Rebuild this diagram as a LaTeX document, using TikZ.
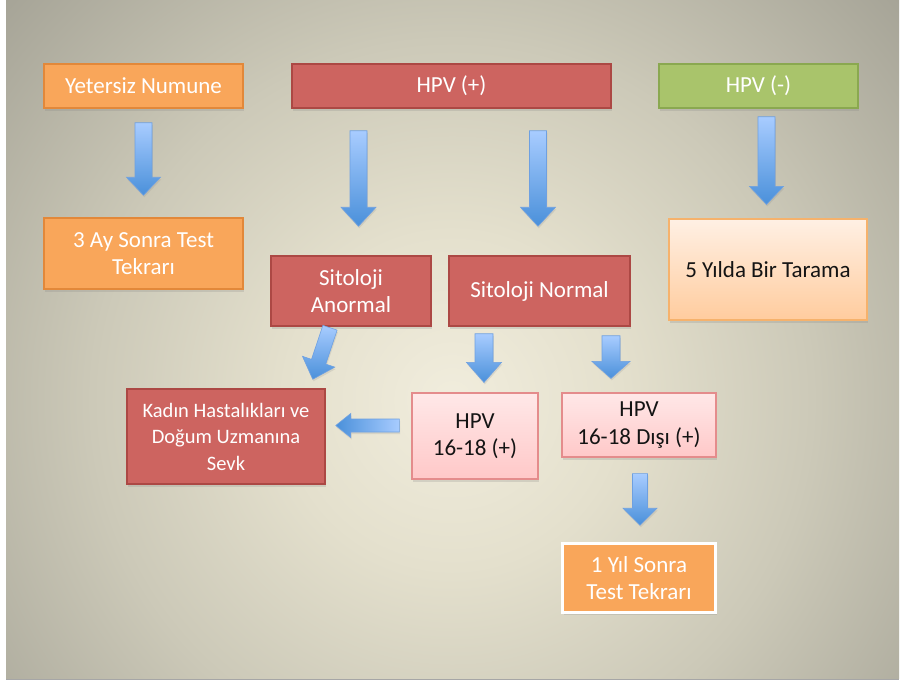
\documentclass[tikz,border=0pt]{standalone}
\usepackage{fontspec}
\setmainfont{Carlito}
\usetikzlibrary{calc,shadows}
\definecolor{bgc0}{RGB}{241,237,221}
\definecolor{bgc1}{RGB}{228,224,205}
\definecolor{bgc2}{RGB}{204,201,184}
\definecolor{bgc3}{RGB}{166,164,151}
\definecolor{orfill}{RGB}{249,166,90}
\definecolor{ordraw}{RGB}{226,136,58}
\definecolor{rdfill}{RGB}{205,100,96}
\definecolor{rddraw}{RGB}{172,72,68}
\definecolor{grfill}{RGB}{169,196,107}
\definecolor{grdraw}{RGB}{138,168,80}
\definecolor{pktop}{RGB}{255,232,232}
\definecolor{pkbot}{RGB}{255,200,200}
\definecolor{pkdraw}{RGB}{228,140,140}
\definecolor{pctop}{RGB}{255,240,228}
\definecolor{pcbot}{RGB}{255,204,158}
\definecolor{pcdraw}{RGB}{246,178,108}
\definecolor{arlight}{RGB}{168,204,255}
\definecolor{ardark}{RGB}{74,144,218}
\definecolor{arline}{RGB}{110,160,225}
\definecolor{txtdark}{RGB}{20,20,20}
\pgfdeclareradialshading{slidebg}{\pgfpoint{0bp}{0bp}}{color(0bp)=(bgc0); color(7bp)=(bgc1); color(15bp)=(bgc2); color(25bp)=(bgc3); color(50bp)=(bgc3)}
\tikzset{
  base/.style={rectangle, inner sep=2pt, align=center,
    font=\fontsize{23}{27.5}\selectfont,
    drop shadow={opacity=0.22, shadow xshift=1pt, shadow yshift=-2.5pt}},
  orangebox/.style={base, fill=orfill, draw=ordraw, line width=1.5pt, text=white},
  redbox/.style={base, fill=rdfill, draw=rddraw, line width=1.5pt, text=white},
  greenbox/.style={base, fill=grfill, draw=grdraw, line width=1.5pt, text=white},
  pinkbox/.style={base, top color=pktop, bottom color=pkbot, draw=pkdraw, line width=1.2pt, text=txtdark},
  peachbox/.style={base, top color=pctop, bottom color=pcbot, draw=pcdraw, line width=1.2pt, text=txtdark},
  whiteframe/.style={base, fill=orfill, draw=white, line width=2.5pt, text=white},
  smalltext/.style={font=\fontsize{20.5}{26.5}\selectfont},
  blockarr/.style={top color=arlight, bottom color=ardark, draw=arline, line width=0.6pt,
    drop shadow={opacity=0.18, shadow xshift=0.8pt, shadow yshift=-2pt}}
}
% #1 options, #2 name, #3 start, #4 tip, #5 shaft half width, #6 head half width, #7 head length
\newcommand\blkarrow[7][]{%
  \coordinate (#2b) at ($(#4)!#7pt!(#3)$);
  \shade[blockarr,#1] ($(#3)!#5pt!90:(#4)$) -- ($(#2b)!#5pt!90:(#4)$) -- ($(#2b)!#6pt!90:(#4)$)
    -- (#4) -- ($(#2b)!#6pt!-90:(#4)$) -- ($(#2b)!#5pt!-90:(#4)$) -- ($(#3)!#5pt!-90:(#4)$) -- cycle;
}
\begin{document}
\begin{tikzpicture}[x=1pt,y=-1pt]
\useasboundingbox (0,0) rectangle (902,681);
\fill[white] (0,0) rectangle (902,681);
\begin{scope}
  \clip (6,0) rectangle (899,678);
  \shade[shading=slidebg] (-148,-200) rectangle (1052,1000);
\end{scope}
\draw[gray!70, line width=1pt] (6,679.5) -- (899,679.5);

% nodes
\node[orangebox, minimum width=199, minimum height=44] (yet) at (143.5,86) {Yetersiz Numune};
\node[redbox, minimum width=319, minimum height=44] (hpvp) at (451.5,86) {HPV (+)};
\node[greenbox, minimum width=199, minimum height=44] (hpvn) at (758.5,86) {HPV (-)};
\node[orangebox, minimum width=199, minimum height=71] (ay3) at (143.5,253.5) {3 Ay Sonra Test\\Tekrarı};
\node[peachbox, minimum width=198, minimum height=101] (yil5) at (768,269.5) {5 Yılda Bir Tarama};
\node[redbox, minimum width=160, minimum height=70] (sanorm) at (351,291) {Sitoloji\\Anormal};
\node[redbox, minimum width=181, minimum height=70] (snorm) at (539.5,291) {Sitoloji Normal};
\node[redbox, smalltext, minimum width=198, minimum height=95] (kadin) at (226,436.5) {Kadın Hastalıkları ve\\Doğum Uzmanına\\Sevk};
\node[pinkbox, minimum width=126, minimum height=86] (h1618) at (475,436) {HPV\\16-18 (+)};
\node[pinkbox, minimum width=154, minimum height=64] (disi) at (639,425) {HPV\\16-18 Dışı (+)};
\node[whiteframe, minimum width=153, minimum height=69] (yil1) at (639,578) {1 Yıl Sonra\\Test Tekrarı};

% arrow end points
\coordinate (a1s) at ($(yet.south)+(0,14)$);
\coordinate (a1t) at ($(ay3.north)+(0,-22)$);
\coordinate (a2s) at ($(hpvp.south)+(-93,22)$);
\coordinate (a2t) at ($(sanorm.north)+(7.5,-29)$);
\coordinate (a3s) at ($(hpvp.south)+(86.5,22)$);
\coordinate (a3t) at ($(snorm.north)+(-1.5,-29)$);
\coordinate (a4s) at ($(hpvn.south)+(8,8)$);
\coordinate (a4t) at ($(yil5.north)+(-1.5,-14)$);
\coordinate (a5s) at ($(sanorm.south)+(-21,1)$);
\coordinate (a5t) at ($(kadin.north east)+(-13,-9)$);
\coordinate (a6s) at ($(snorm.south)+(-55.5,7)$);
\coordinate (a6t) at ($(h1618.north)+(9,-10)$);
\coordinate (a7s) at ($(snorm.south)+(71.5,9)$);
\coordinate (a7t) at ($(disi.north)+(-28,-14)$);
\coordinate (a8s) at ($(h1618.west)+(-12,-10.5)$);
\coordinate (a8t) at ($(kadin.east)+(10,-11)$);
\coordinate (a9s) at ($(disi.south)+(1,16)$);
\coordinate (a9t) at ($(yil1.north)+(1,-17)$);

% block arrows
\blkarrow{a1}{a1s}{a1t}{8.5}{17}{18}
\blkarrow{a2}{a2s}{a2t}{8.5}{17.5}{19}
\blkarrow{a3}{a3s}{a3t}{8.5}{17.5}{19}
\blkarrow{a4}{a4s}{a4t}{8.5}{17}{18}
\blkarrow{a5}{a5s}{a5t}{7.5}{17}{18.5}
\blkarrow{a6}{a6s}{a6t}{9}{17.5}{20}
\blkarrow{a7}{a7s}{a7t}{9}{19}{17}
\blkarrow[left color=ardark, right color=arlight]{a8}{a8s}{a8t}{6.5}{12}{15}
\blkarrow{a9}{a9s}{a9t}{7.5}{17}{17}
\end{tikzpicture}
\end{document}
